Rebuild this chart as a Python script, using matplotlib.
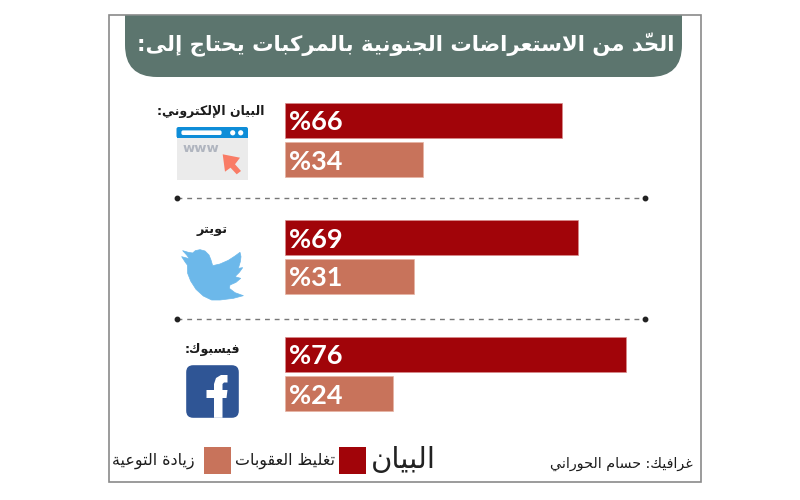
import numpy as np
import matplotlib
matplotlib.use("Agg")
import matplotlib.pyplot as plt
from matplotlib.patches import FancyBboxPatch, PathPatch, Polygon, Rectangle, Circle
from matplotlib.path import Path

# values printed on the bars
pct_red = [66, 69, 76]
pct_salmon = [34, 31, 24]
# bar lengths as actually drawn in the picture (it is not true to scale)
len_red = [66.0, 69.8, 81.2]
len_salmon = [32.9, 30.7, 25.7]

title = "الحدّ من الاستعراضات الجنونية بالمركبات يحتاج إلى:"
cat_labels = ["البيان الإلكتروني:", "تويتر", "فيسبوك:"]
legend_red = "تغليظ العقوبات"
legend_salmon = "زيادة التوعية"
logo = "البيان"
credit = "غرافيك: حسام الحوراني"

RED = "#a10409"
SALMON = "#c8735b"
GREEN = "#5c756e"
INK = "#1c1c1c"

# matplotlib does no arabic shaping, so map letters to presentation forms
DUAL = {"ئ": 0xFE89, "ب": 0xFE8F, "ت": 0xFE95, "ث": 0xFE99, "ج": 0xFE9D, "ح": 0xFEA1,
        "خ": 0xFEA5, "س": 0xFEB1, "ش": 0xFEB5, "ص": 0xFEB9, "ض": 0xFEBD, "ط": 0xFEC1,
        "ظ": 0xFEC5, "ع": 0xFEC9, "غ": 0xFECD, "ف": 0xFED1, "ق": 0xFED5, "ك": 0xFED9,
        "ل": 0xFEDD, "م": 0xFEE1, "ن": 0xFEE5, "ه": 0xFEE9, "ي": 0xFEF1}
RIGHT = {"آ": 0xFE81, "أ": 0xFE83, "ؤ": 0xFE85, "إ": 0xFE87, "ا": 0xFE8D, "ة": 0xFE93,
         "د": 0xFEA9, "ذ": 0xFEAB, "ر": 0xFEAD, "ز": 0xFEAF, "و": 0xFEED, "ى": 0xFEEF}
LAM_ALEF = {"آ": 0xFEF5, "أ": 0xFEF7, "إ": 0xFEF9, "ا": 0xFEFB}
SHADDA = "\u0651"


def shape(s):
    clusters = []
    joined = False
    i = 0
    while i < len(s):
        c = s[i]
        if c == SHADDA:
            clusters[-1] += c
            i += 1
            continue
        if c == "ل" and i + 1 < len(s) and s[i + 1] in LAM_ALEF:
            clusters.append(chr(LAM_ALEF[s[i + 1]] + (1 if joined else 0)))
            joined = False
            i += 2
            continue
        j = i + 1
        while j < len(s) and s[j] == SHADDA:
            j += 1
        nxt = s[j] if j < len(s) else " "
        next_ok = nxt in DUAL or nxt in RIGHT
        if c in DUAL:
            if joined and next_ok:
                clusters.append(chr(DUAL[c] + 3))
            elif joined:
                clusters.append(chr(DUAL[c] + 1))
            elif next_ok:
                clusters.append(chr(DUAL[c] + 2))
            else:
                clusters.append(chr(DUAL[c]))
            joined = next_ok
        elif c in RIGHT:
            clusters.append(chr(RIGHT[c] + (1 if joined else 0)))
            joined = False
        else:
            clusters.append(c)
            joined = False
        i += 1
    return "".join(reversed(clusters))


plt.rcParams["font.family"] = ["DejaVu Sans"]
fig = plt.figure(figsize=(8, 5), dpi=100, facecolor="white")

# page furniture is laid out in pixels of the 800x500 picture
deco = fig.add_axes([0, 0, 1, 1])
deco.set_xlim(0, 800)
deco.set_ylim(500, 0)
deco.axis("off")

deco.add_patch(Rectangle((108.5, 15), 592, 467, fc="white", ec="#8a8a8a", lw=1.2))

# title tab: square on top, round on the bottom
r = 32
l, t, rgt, b = 125, 15.5, 682, 77
tab = Path([(l, t), (l, b - r), (l, b), (l + r, b), (rgt - r, b), (rgt, b), (rgt, b - r), (rgt, t), (l, t)],
           [Path.MOVETO, Path.LINETO, Path.CURVE3, Path.CURVE3, Path.LINETO, Path.CURVE3, Path.CURVE3,
            Path.LINETO, Path.CLOSEPOLY])
deco.add_patch(PathPatch(tab, fc=GREEN, ec="none"))
deco.text(406, 45, shape(title), color="white", fontsize=15.3, fontweight="bold", ha="center", va="center")

# dotted separators
for y in [197.5, 319]:
    deco.plot([177, 645], [y, y], color="#777777", lw=1, dashes=(3.5, 3.5))
    deco.plot([177, 645], [y, y], "o", color="#222222", ms=3.2, ls="none")

# soft shadow left of each bar pair
for y0, y1 in [(103, 177), (220, 294), (337, 410)]:
    xs = np.linspace(0, 1, 10)
    ys = np.sin(np.linspace(0, np.pi, 60))[:, None]
    img = np.zeros((60, 10, 4))
    img[..., :3] = 0.45
    img[..., 3] = 0.45 * ys * xs ** 2
    deco.imshow(img, extent=(269, 276, y1, y0), aspect="auto", interpolation="bilinear")
deco.set_xlim(0, 800)
deco.set_ylim(500, 0)

# category labels
deco.text(210.5, 111, shape(cat_labels[0]), color=INK, fontsize=9, fontweight="bold", ha="center", va="center")
deco.text(212, 229, shape(cat_labels[1]), color=INK, fontsize=9.3, fontweight="bold", ha="center", va="center")
deco.text(212, 349, shape(cat_labels[2]), color=INK, fontsize=9, fontweight="bold", ha="center", va="center")

# browser icon
deco.add_patch(Rectangle((176.5, 133), 71.5, 46.5, fc="#ebebeb", ec="none"))
deco.add_patch(FancyBboxPatch((178, 128.5), 68.5, 8, boxstyle="round,pad=1.5,rounding_size=2", fc="#0e8dd8", ec="none"))
deco.add_patch(Rectangle((176.5, 133), 71.5, 5, fc="#0e8dd8", ec="none"))
deco.add_patch(FancyBboxPatch((182, 131), 39, 3.4, boxstyle="round,pad=0.6,rounding_size=1.7", fc="white", ec="none"))
deco.add_patch(Circle((232.7, 132.8), 2.6, fc="white", ec="none"))
deco.add_patch(Circle((240.7, 132.8), 2.6, fc="white", ec="none"))
deco.text(183, 148.5, "www", color="#b0b5bf", fontsize=9.5, fontweight="bold", ha="left", va="center")
deco.add_patch(Polygon([(222.7, 154.3), (240, 157.7), (235, 164.3), (241, 171), (236.7, 174.3),
                        (230.5, 167.7), (225, 171.7)], closed=True, fc="#f97c66", ec="none"))

# twitter bird
bird = [(38, 17), (55, 22), (68, 24), (76, 17), (90, 14), (105, 18), (117, 30), (123, 45), (128, 62),
        (150, 57), (175, 46), (195, 33), (210, 22), (213, 35), (211, 50), (205, 70), (218, 68), (208, 82),
        (195, 95), (212, 100), (198, 112), (180, 120), (178, 130), (195, 143), (220, 152), (190, 160),
        (150, 165), (125, 165), (100, 153), (78, 133), (62, 108), (53, 85), (52, 60), (46, 52), (35, 35),
        (46, 38), (58, 41), (50, 30)]
deco.add_patch(Polygon([(170 + x / 3, 245 + y / 3) for x, y in bird], closed=True, fc="#6cb8ea", ec="#6cb8ea",
                       lw=0.5, joinstyle="round"))

# facebook icon
deco.add_patch(FancyBboxPatch((190, 369), 45, 45, boxstyle="round,pad=3.8,rounding_size=7", fc="#2f5595", ec="none"))
deco.add_patch(Polygon([(214, 417.8), (214, 398), (206.5, 398), (206.5, 390), (214, 390), (214, 384), (216, 378),
                        (221, 375), (227.5, 375), (227.5, 382.5), (224, 382.5), (222.5, 384), (222.5, 390),
                        (227.5, 390), (226.5, 398), (222.5, 398), (222.5, 417.8)], closed=True, fc="white", ec="none"))

# legend and credit
deco.add_patch(Rectangle((339, 447), 27, 27, fc=RED, ec="none"))
deco.add_patch(Rectangle((204, 447), 27, 27, fc=SALMON, ec="none"))
deco.text(335, 461, shape(legend_red), color=INK, fontsize=11.4, ha="right", va="center")
deco.text(195, 461, shape(legend_salmon), color=INK, fontsize=11.4, ha="right", va="center")
deco.text(436, 460, shape(logo), color="#222222", fontsize=21, ha="right", va="center")
deco.text(693, 464, shape(credit), color=INK, fontsize=10.3, ha="right", va="center")

# bars: one row is 39 px, with an empty row between groups
ax = fig.add_axes([285 / 800, (500 - 413) / 500, 420 / 800, 312 / 500])
ax.patch.set_alpha(0)
ax.axis("off")
rows_red = [0, 3, 6]
rows_salmon = [1, 4, 7]
ax.barh(rows_red, len_red, height=0.9, color=RED, edgecolor="#d98b8b", lw=0.5)
ax.barh(rows_salmon, len_salmon, height=0.9, color=SALMON, edgecolor="#e6b3a3", lw=0.5)
ax.set_xlim(0, 100)
ax.set_ylim(7.5, -0.5)
for rows, pcts in [(rows_red, pct_red), (rows_salmon, pct_salmon)]:
    for row, p in zip(rows, pcts):
        ax.text(13.8, row, "%" + str(p), color="white", fontsize=19.5, fontweight="bold",
                family="Lato", ha="right", va="center_baseline")

fig.savefig("out.png", dpi=100)
